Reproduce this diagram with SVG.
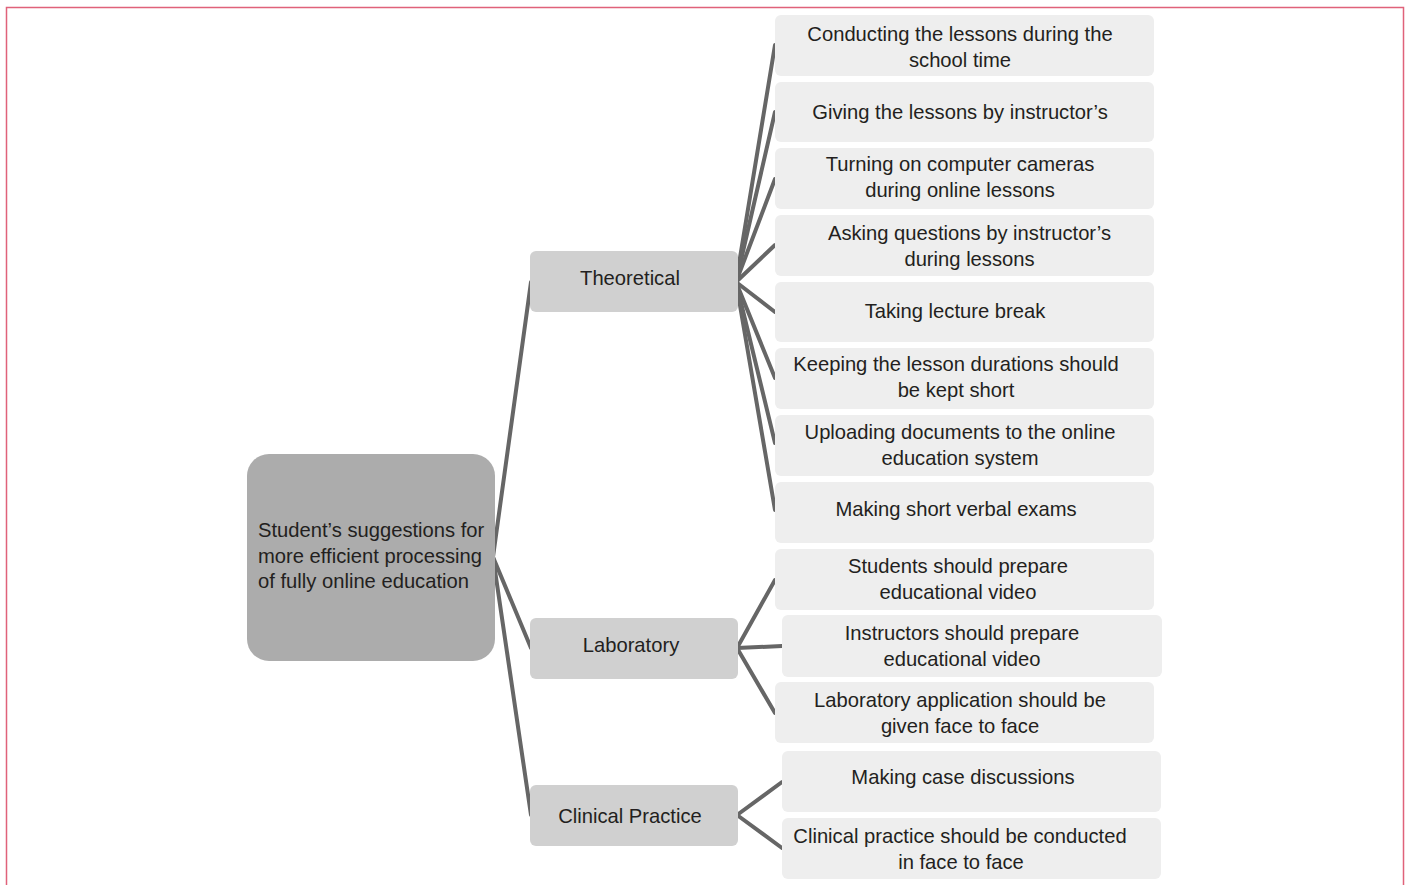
<svg xmlns="http://www.w3.org/2000/svg" width="1407" height="885" viewBox="0 0 1407 885">
<style>
text{font-family:"Liberation Sans",Arial,sans-serif;font-size:20.2px;fill:#231f20}
.c{text-anchor:middle}
.leaf{fill:#eeeeee}
.mid{fill:#d0d0d0}
.root{fill:#acacac}
#connectors line{stroke:#666666;stroke-width:4;stroke-linecap:round}
</style>
<rect x="6.5" y="7.5" width="1397" height="900" fill="#ffffff" stroke="#e0627a" stroke-width="1.5"/>
<g id="connectors">
<line x1="493" y1="557" x2="531" y2="282"/>
<line x1="493" y1="557" x2="531" y2="648"/>
<line x1="493" y1="557" x2="531" y2="815"/>
<line x1="736" y1="282" x2="775" y2="45"/>
<line x1="736" y1="282" x2="775" y2="112"/>
<line x1="736" y1="282" x2="775" y2="179"/>
<line x1="736" y1="282" x2="775" y2="245"/>
<line x1="736" y1="282" x2="775" y2="312"/>
<line x1="736" y1="282" x2="775" y2="378"/>
<line x1="736" y1="282" x2="775" y2="443"/>
<line x1="736" y1="282" x2="775" y2="510"/>
<line x1="737" y1="648" x2="775" y2="580"/>
<line x1="737" y1="648" x2="782" y2="646"/>
<line x1="737" y1="648" x2="775" y2="713"/>
<line x1="737" y1="815" x2="782" y2="782"/>
<line x1="737" y1="815" x2="782" y2="848"/>
</g>
<g id="root">
<rect class="root" x="247" y="454" width="248" height="207" rx="22"/>
<text x="258" y="537">Student’s suggestions for</text>
<text x="258" y="563">more efficient processing</text>
<text x="258" y="588">of fully online education</text>
</g>
<g id="theoretical">
<rect class="mid" x="530" y="251" width="208" height="61" rx="6"/>
<text class="c" x="630" y="285">Theoretical</text>
</g>
<g id="laboratory">
<rect class="mid" x="530" y="618" width="208" height="61" rx="6"/>
<text class="c" x="631" y="652">Laboratory</text>
</g>
<g id="clinical">
<rect class="mid" x="530" y="785" width="208" height="61" rx="6"/>
<text class="c" x="630" y="823">Clinical Practice</text>
</g>
<g id="leaf1">
<rect class="leaf" x="775" y="15" width="379" height="61" rx="6"/>
<text class="c" x="960" y="41">Conducting the lessons during the</text>
<text class="c" x="960" y="67">school time</text>
</g>
<g id="leaf2">
<rect class="leaf" x="775" y="82" width="379" height="60" rx="6"/>
<text class="c" x="960" y="119">Giving the lessons by instructor’s</text>
</g>
<g id="leaf3">
<rect class="leaf" x="775" y="148" width="379" height="61" rx="6"/>
<text class="c" x="960" y="171">Turning on computer cameras</text>
<text class="c" x="960" y="197">during online lessons</text>
</g>
<g id="leaf4">
<rect class="leaf" x="775" y="215" width="379" height="61" rx="6"/>
<text class="c" x="969.5" y="240">Asking questions by instructor’s</text>
<text class="c" x="969.5" y="266">during lessons</text>
</g>
<g id="leaf5">
<rect class="leaf" x="775" y="282" width="379" height="60" rx="6"/>
<text class="c" x="955" y="318">Taking lecture break</text>
</g>
<g id="leaf6">
<rect class="leaf" x="775" y="348" width="379" height="61" rx="6"/>
<text class="c" x="956" y="371">Keeping the lesson durations should</text>
<text class="c" x="956" y="397">be kept short</text>
</g>
<g id="leaf7">
<rect class="leaf" x="775" y="415" width="379" height="61" rx="6"/>
<text class="c" x="960" y="439">Uploading documents to the online</text>
<text class="c" x="960" y="465">education system</text>
</g>
<g id="leaf8">
<rect class="leaf" x="775" y="482" width="379" height="61" rx="6"/>
<text class="c" x="956" y="516">Making short verbal exams</text>
</g>
<g id="leaf9">
<rect class="leaf" x="775" y="549" width="379" height="61" rx="6"/>
<text class="c" x="958" y="573">Students should prepare</text>
<text class="c" x="958" y="599">educational video</text>
</g>
<g id="leaf10">
<rect class="leaf" x="782" y="615" width="380" height="62" rx="6"/>
<text class="c" x="962" y="640">Instructors should prepare</text>
<text class="c" x="962" y="666">educational video</text>
</g>
<g id="leaf11">
<rect class="leaf" x="775" y="682" width="379" height="61" rx="6"/>
<text class="c" x="960" y="707">Laboratory application should be</text>
<text class="c" x="960" y="733">given face to face</text>
</g>
<g id="leaf12">
<rect class="leaf" x="782" y="751" width="379" height="61" rx="6"/>
<text class="c" x="963" y="784">Making case discussions</text>
</g>
<g id="leaf13">
<rect class="leaf" x="782" y="818" width="379" height="61" rx="6"/>
<text class="c" x="960" y="843">Clinical practice should be conducted</text>
<text class="c" x="961" y="869">in face to face</text>
</g>
</svg>
